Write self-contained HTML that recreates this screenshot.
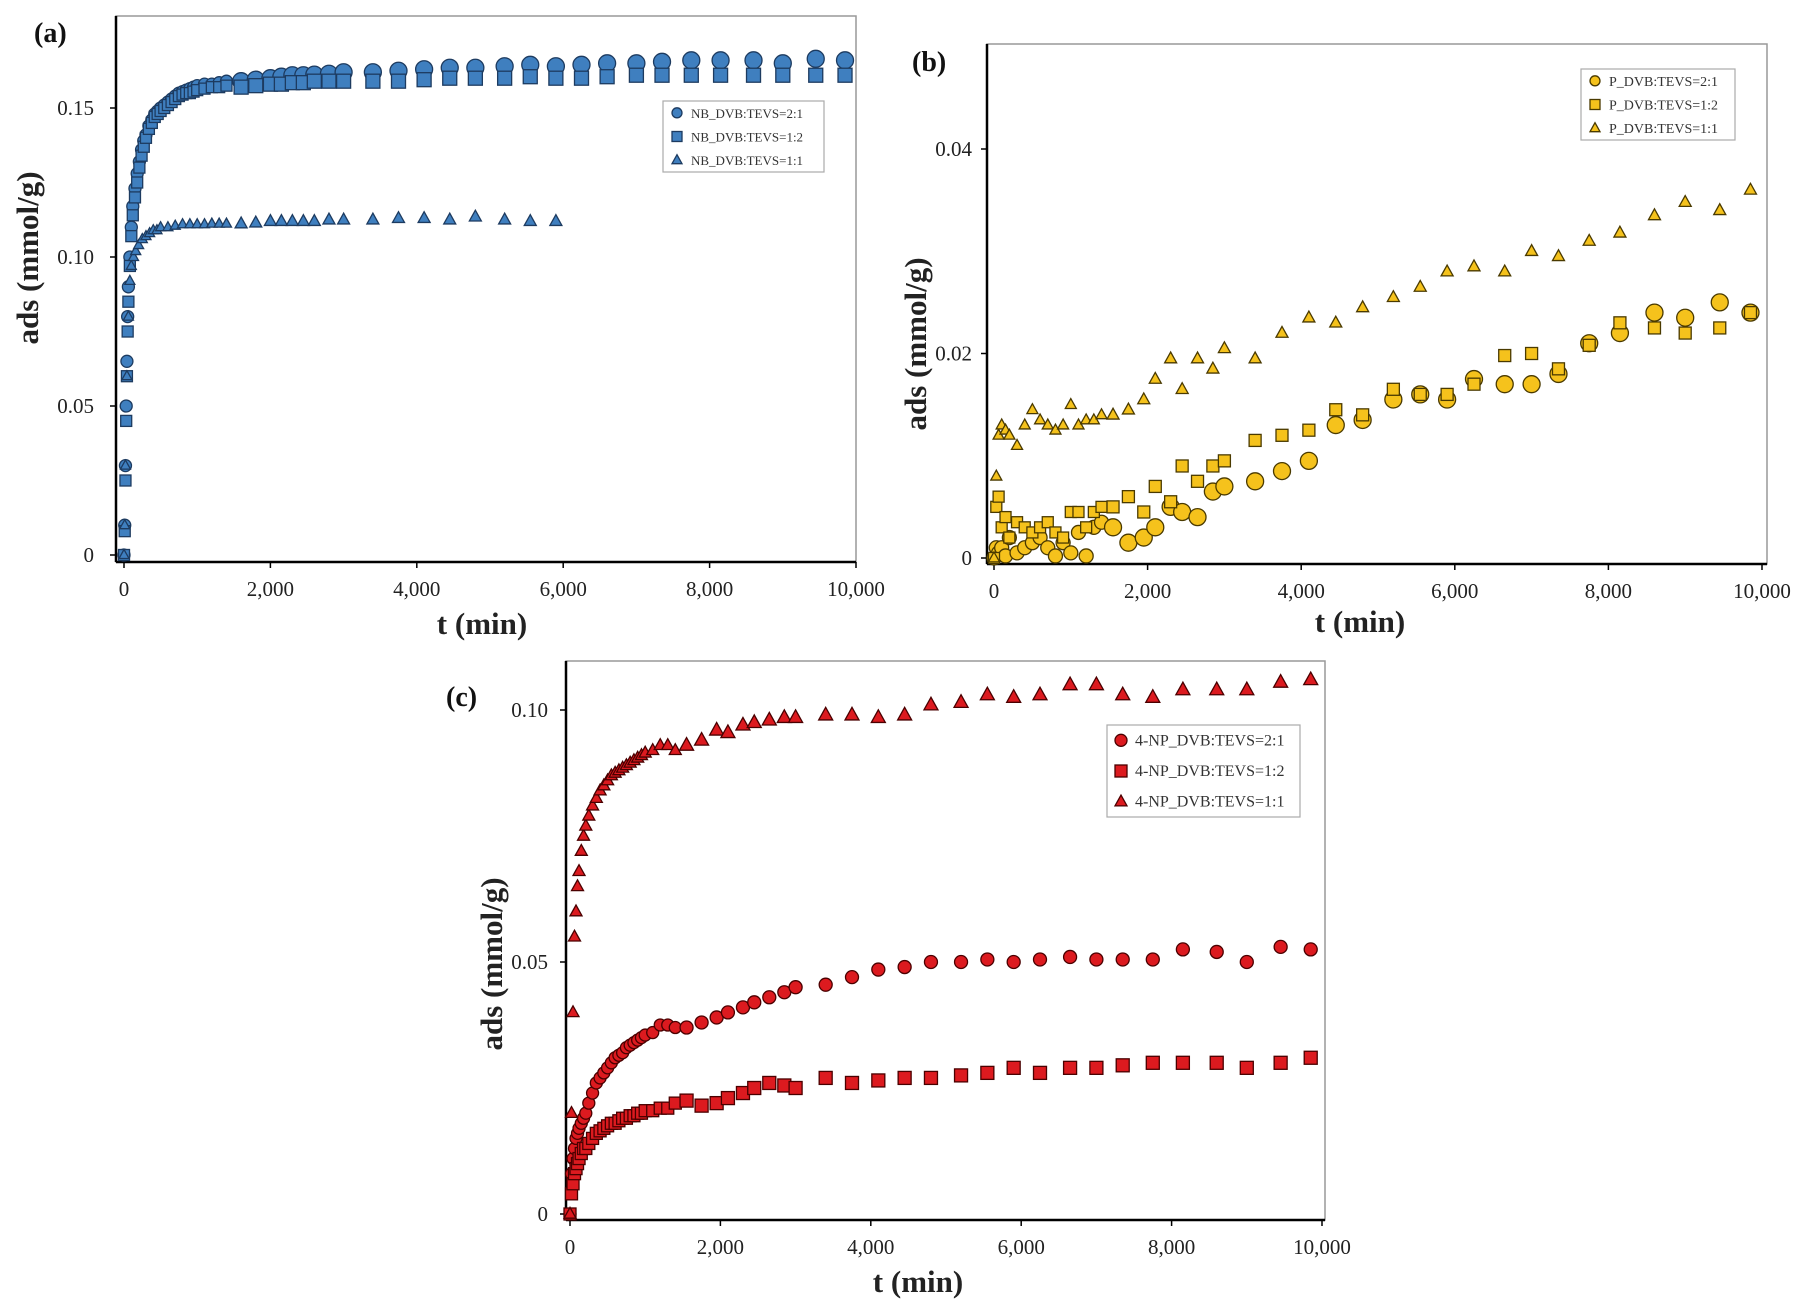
<!DOCTYPE html>
<html><head><meta charset="utf-8"><style>
html,body{margin:0;padding:0;background:#fff;}
svg{display:block;font-family:"Liberation Serif",serif;}
</style></head><body>
<svg id="fig" width="1799" height="1309" viewBox="0 0 1799 1309" xmlns="http://www.w3.org/2000/svg"></svg>
<script>
// ---------- Panel (a) data ----------
const aT1=[0,10,20,30,40,50,60,80,100,120,150,180,210,240,270,300,340,380,420,460,500,550,600,650,700,750,800,850,900,950,1000,1100,1200,1300,1400,1600,1800,2000,2150,2300,2450,2600,2800,3000,3400,3750,4100,4450,4800,5200,5550,5900,6250,6600,7000,7350,7750,8150,8600,9000,9450,9850];
const aCirc=[0,0.01,0.03,0.05,0.065,0.08,0.09,0.10,0.11,0.117,0.123,0.128,0.132,0.136,0.139,0.141,0.144,0.146,0.148,0.149,0.150,0.151,0.152,0.153,0.154,0.155,0.1555,0.156,0.1565,0.157,0.1575,0.158,0.158,0.1585,0.159,0.159,0.1595,0.16,0.1605,0.161,0.161,0.1612,0.1615,0.162,0.162,0.1625,0.163,0.1635,0.1635,0.164,0.1645,0.164,0.1645,0.165,0.165,0.1655,0.166,0.166,0.166,0.165,0.1665,0.166];
const aSq=[0,0.008,0.025,0.045,0.06,0.075,0.085,0.097,0.107,0.114,0.12,0.125,0.13,0.134,0.137,0.14,0.143,0.145,0.147,0.148,0.149,0.15,0.151,0.152,0.153,0.154,0.1545,0.155,0.155,0.1555,0.156,0.1565,0.157,0.157,0.1575,0.157,0.1575,0.158,0.158,0.1585,0.1585,0.159,0.159,0.159,0.159,0.159,0.1595,0.16,0.16,0.16,0.1605,0.16,0.16,0.1605,0.161,0.161,0.161,0.161,0.161,0.161,0.161,0.161];
const aT3=[0,10,20,40,60,80,100,130,160,200,250,300,350,400,450,500,600,700,800,900,1000,1100,1200,1300,1400,1600,1800,2000,2150,2300,2450,2600,2800,3000,3400,3750,4100,4450,4800,5200,5550,5900];
const aTri=[0,0.01,0.03,0.06,0.08,0.092,0.097,0.1,0.102,0.104,0.106,0.107,0.108,0.109,0.109,0.11,0.11,0.1105,0.111,0.111,0.111,0.111,0.1112,0.1112,0.1112,0.1112,0.1115,0.112,0.112,0.112,0.112,0.112,0.1125,0.1125,0.1125,0.113,0.113,0.1125,0.1135,0.1125,0.112,0.112];
const aYTicks=[0,0.05,0.10,0.15];
const aYLabels=["0","0.05","0.10","0.15"];
// ---------- Panel (b) data ----------
const bT=[0,30,60,100,150,200,300,400,500,600,700,800,900,1000,1100,1200,1300,1400,1550,1750,1950,2100,2300,2450,2650,2850,3000,3400,3750,4100,4450,4800,5200,5550,5900,6250,6650,7000,7350,7750,8150,8600,9000,9450,9850];
const bCirc=[0,0.001,0.0005,0.001,0.0002,0.002,0.0005,0.001,0.0015,0.002,0.001,0.0002,0.0015,0.0005,0.0025,0.0002,0.003,0.0035,0.003,0.0015,0.002,0.003,0.005,0.0045,0.004,0.0065,0.007,0.0075,0.0085,0.0095,0.013,0.0135,0.0155,0.016,0.0155,0.0175,0.017,0.017,0.018,0.021,0.022,0.024,0.0235,0.025,0.024];
const bSq=[0,0.005,0.006,0.003,0.004,0.002,0.0035,0.003,0.0025,0.003,0.0035,0.0025,0.002,0.0045,0.0045,0.003,0.0045,0.005,0.005,0.006,0.0045,0.007,0.0055,0.009,0.0075,0.009,0.0095,0.0115,0.012,0.0125,0.0145,0.014,0.0165,0.016,0.016,0.017,0.0198,0.020,0.0185,0.0208,0.023,0.0225,0.022,0.0225,0.024];
const bTri=[0,0.008,0.012,0.013,0.0125,0.012,0.011,0.013,0.0145,0.0135,0.013,0.0125,0.013,0.015,0.013,0.0135,0.0135,0.014,0.014,0.0145,0.0155,0.0175,0.0195,0.0165,0.0195,0.0185,0.0205,0.0195,0.022,0.0235,0.023,0.0245,0.0255,0.0265,0.028,0.0285,0.028,0.030,0.0295,0.031,0.0318,0.0335,0.0348,0.034,0.036];
const bYTicks=[0,0.02,0.04];
const bYLabels=["0","0.02","0.04"];
// ---------- Panel (c) data ----------
const cT=[0,20,40,60,80,100,120,150,180,210,250,300,350,400,450,500,550,600,650,700,750,800,850,900,950,1000,1100,1200,1300,1400,1550,1750,1950,2100,2300,2450,2650,2850,3000,3400,3750,4100,4450,4800,5200,5550,5900,6250,6650,7000,7350,7750,8150,8600,9000,9450,9850];
const cTri=[0,0.02,0.04,0.055,0.06,0.065,0.068,0.072,0.075,0.077,0.079,0.081,0.0825,0.084,0.085,0.086,0.087,0.0875,0.088,0.0885,0.089,0.0895,0.09,0.0905,0.091,0.0915,0.092,0.093,0.093,0.092,0.093,0.094,0.096,0.0955,0.097,0.0975,0.098,0.0985,0.0985,0.099,0.099,0.0985,0.099,0.101,0.1015,0.103,0.1025,0.103,0.105,0.105,0.103,0.1025,0.104,0.104,0.104,0.1055,0.106];
const cCirc=[0,0.008,0.011,0.013,0.015,0.016,0.017,0.018,0.019,0.020,0.022,0.024,0.026,0.027,0.028,0.029,0.030,0.031,0.0315,0.032,0.033,0.0335,0.034,0.0345,0.035,0.0355,0.036,0.0375,0.0375,0.037,0.037,0.038,0.039,0.040,0.041,0.042,0.043,0.044,0.045,0.0455,0.047,0.0485,0.049,0.050,0.050,0.0505,0.050,0.0505,0.051,0.0505,0.0505,0.0505,0.0525,0.052,0.050,0.053,0.0525];
const cSq=[0,0.004,0.006,0.008,0.009,0.01,0.011,0.012,0.013,0.013,0.014,0.015,0.016,0.0165,0.017,0.0175,0.018,0.018,0.0185,0.019,0.019,0.0195,0.0195,0.020,0.020,0.0205,0.0205,0.021,0.021,0.022,0.0225,0.0215,0.022,0.023,0.024,0.025,0.026,0.0255,0.025,0.027,0.026,0.0265,0.027,0.027,0.0275,0.028,0.029,0.028,0.029,0.029,0.0295,0.030,0.030,0.030,0.029,0.030,0.031];
const cYTicks=[0,0.05,0.10];
const cYLabels=["0","0.05","0.10"];
const xTicks=[0,2000,4000,6000,8000,10000];
const xLabels=["0","2,000","4,000","6,000","8,000","10,000"];

const NS="http://www.w3.org/2000/svg";
const svg=document.getElementById('fig');
function mk(tag,attrs,parent){const e=document.createElementNS(NS,tag);for(const k in attrs)e.setAttribute(k,attrs[k]);(parent||svg).appendChild(e);return e;}

function marker(g,kind,x,y,s,fill,stroke){
  let e;
  if(kind==='c'){e=mk('circle',{cx:x,cy:y,r:s,fill:fill,stroke:stroke,'stroke-width':1.3},g);}
  else if(kind==='s'){e=mk('rect',{x:x-s,y:y-s,width:2*s,height:2*s,fill:fill,stroke:stroke,'stroke-width':1.3},g);}
  else {e=mk('polygon',{points:`${x},${y-s*1.1} ${x-s},${y+s*0.7} ${x+s},${y+s*0.7}`,fill:fill,stroke:stroke,'stroke-width':1.3},g);}
  return e;
}

function panel(p){
  const g=mk('g',{});
  
  
  const X=t=>p.x0+(p.x1-p.x0)*t/10000;
  const Y=v=>p.y0-(p.y0-p.yT)*v/p.yTv;
  const fr=mk('rect',{x:p.L,y:p.T,width:p.R-p.L,height:p.B-p.T,fill:'none',stroke:'#999','stroke-width':1.5},g);
  
  
  const ya=mk('line',{x1:p.L,y1:p.T,x2:p.L,y2:p.B,stroke:'#000','stroke-width':2.5},g);
  
  
  const xa=mk('line',{x1:p.L,y1:p.B,x2:p.R,y2:p.B,stroke:'#000','stroke-width':2.5},g);
  
  
  xTicks.forEach((t,i)=>{
    mk('line',{x1:X(t),y1:p.B,x2:X(t),y2:p.B+6,stroke:'#000','stroke-width':1.5},g);
    const tx=mk('text',{x:X(t),y:p.xly,'text-anchor':'middle','font-size':21,fill:'#222'},g);
    tx.textContent=xLabels[i];
    
    
  });
  p.yTicks.forEach((v,i)=>{
    mk('line',{x1:p.L-6,y1:Y(v),x2:p.L,y2:Y(v),stroke:'#000','stroke-width':1.5},g);
    const tx=mk('text',{x:p.ylx,y:Y(v)+7,'text-anchor':'end','font-size':21,fill:'#222'},g);
    tx.textContent=p.yLabels[i];
    
    
  });
  p.series.forEach(s=>{
    const sg=mk('g',{},g);
    
    
    s.t.forEach((t,i)=>{
      const sz=t<1500?s.small:s.big;
      const m=marker(sg,s.kind,X(t),Y(s.v[i]),sz,p.fill,p.stroke);
      
      
    });
  });
  const xt=mk('text',{x:p.xtx,y:p.xty,'text-anchor':'middle','font-size':31,'font-weight':'bold',fill:'#222'},g);
  xt.textContent='t (min)';
  
  
  const yt=mk('text',{x:0,y:0,transform:`translate(${p.ytx},${p.yty}) rotate(-90)`,'text-anchor':'middle','font-size':31,'font-weight':'bold',fill:'#222'},g);
  yt.textContent='ads (mmol/g)';
  
  
  const pl=mk('text',{x:p.plx,y:p.ply,'font-size':28,'font-weight':'bold',fill:'#111'},g);
  pl.textContent=p.label;
  
  
  const lg=mk('g',{},g);
  
  
  const lb=p.leg;
  mk('rect',{x:lb[0],y:lb[1],width:lb[2]-lb[0],height:lb[3]-lb[1],fill:'#fff',stroke:'#aaa','stroke-width':1.2},lg);
  const rowH=(lb[3]-lb[1])/3;
  p.series.forEach((s,i)=>{
    const cy=lb[1]+rowH*(i+0.5);
    marker(lg,s.kind,lb[0]+14,cy,p.legSz,p.fill,p.stroke);
    const tx=mk('text',{x:lb[0]+28,y:cy+5,'font-size':p.legFont,fill:'#333'},lg);
    tx.textContent=s.label;
    
    
  });
}

panel({name:'panel-a',label:'(a)',plx:34,ply:42,L:116,T:16,R:856,B:562,x0:124,x1:856,y0:555,yT:108,yTv:0.15,
  yTicks:aYTicks,yLabels:aYLabels,ylx:94,xly:596,xtx:482,xty:634,ytx:38,yty:258,fill:'#3f7fbf',stroke:'#1d3b60',
  leg:[663,101,824,172],legSz:5,legFont:13,
  series:[{name:'series-2-1',kind:'c',t:aT1,v:aCirc,small:6,big:8.5,label:'NB_DVB:TEVS=2:1'},
          {name:'series-1-2',kind:'s',t:aT1,v:aSq,small:5.5,big:7,label:'NB_DVB:TEVS=1:2'},
          {name:'series-1-1',kind:'t',t:aT3,v:aTri,small:5,big:6,label:'NB_DVB:TEVS=1:1'}]});

panel({name:'panel-b',label:'(b)',plx:912,ply:71,L:987,T:44,R:1767,B:564,x0:994,x1:1762,y0:558,yT:149,yTv:0.04,
  yTicks:bYTicks,yLabels:bYLabels,ylx:972,xly:598,xtx:1360,xty:632,ytx:926,yty:344,fill:'#f5c21c',stroke:'#4a3a00',
  leg:[1581,69,1735,140],legSz:5,legFont:14,
  series:[{name:'series-2-1',kind:'c',t:bT,v:bCirc,small:7,big:8.5,label:'P_DVB:TEVS=2:1'},
          {name:'series-1-2',kind:'s',t:bT,v:bSq,small:5.5,big:6,label:'P_DVB:TEVS=1:2'},
          {name:'series-1-1',kind:'t',t:bT,v:bTri,small:5.5,big:6,label:'P_DVB:TEVS=1:1'}]});

panel({name:'panel-c',label:'(c)',plx:446,ply:706,L:566,T:661,R:1325,B:1220,x0:570,x1:1322,y0:1214,yT:710,yTv:0.10,
  yTicks:cYTicks,yLabels:cYLabels,ylx:548,xly:1254,xtx:918,xty:1292,ytx:502,yty:964,fill:'#dc1a1f',stroke:'#4a0000',
  leg:[1107,725,1300,817],legSz:6,legFont:16,
  series:[{name:'series-2-1',kind:'c',t:cT,v:cCirc,small:6,big:6.5,label:'4-NP_DVB:TEVS=2:1'},
          {name:'series-1-2',kind:'s',t:cT,v:cSq,small:6,big:6.5,label:'4-NP_DVB:TEVS=1:2'},
          {name:'series-1-1',kind:'t',t:cT,v:cTri,small:6,big:7,label:'4-NP_DVB:TEVS=1:1'}]});
</script>
</body></html>
